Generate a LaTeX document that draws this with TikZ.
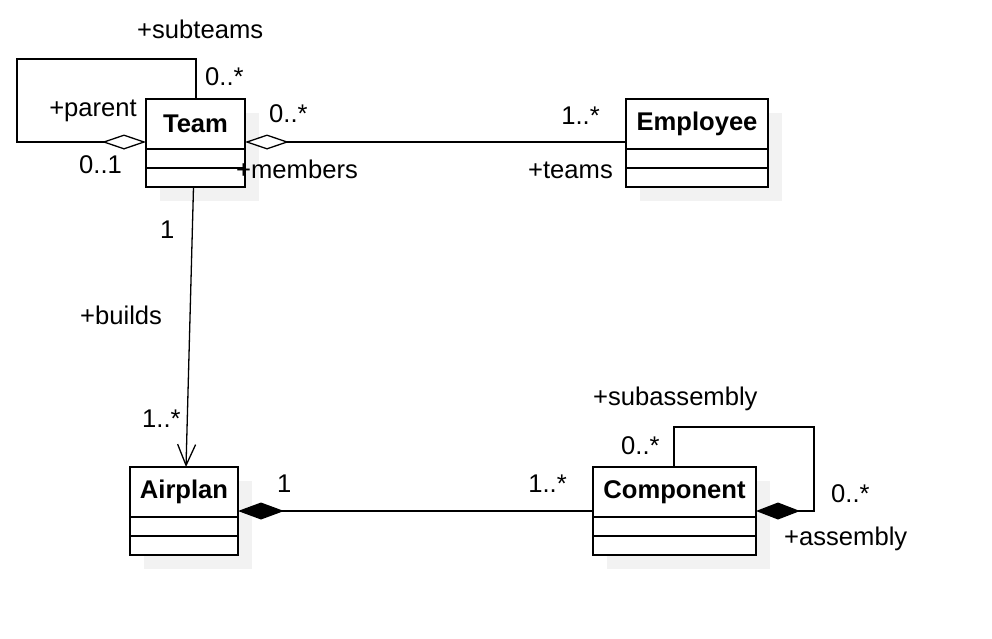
\documentclass[tikz,border=0pt]{standalone}
\usepackage{fontspec}
\setmainfont{Liberation Sans}
\usetikzlibrary{arrows.meta,positioning,shadows,calc}
\newcommand{\umlfont}{\fontsize{25.6}{30}\selectfont}
\tikzstyle{classhead} = [
    rectangle,
    draw=black,
    fill=white,
    line width=1.3pt,
    inner sep=0pt,
    outer sep=0pt,
    minimum height=50pt,
    anchor=north west,
    font=\umlfont\bfseries,
    drop shadow={shadow xshift=14pt, shadow yshift=-14pt, fill=black!5, opacity=1}
]
\tikzstyle{classpart} = [
    rectangle,
    draw=black,
    fill=white,
    line width=1.3pt,
    inner sep=0pt,
    outer sep=0pt,
    minimum height=19pt,
    drop shadow={shadow xshift=14pt, shadow yshift=-14pt, fill=black!5, opacity=1}
]
\tikzstyle{assoc} = [
    line width=1.3pt,
    draw=black
]
\tikzstyle{role} = [
    inner sep=0pt,
    font=\umlfont
]
\begin{document}
\begin{tikzpicture}[x=1pt, y=-1pt]
        \useasboundingbox (0,0) rectangle (992,638);

        % classes
        \node[classhead, minimum width=99pt] (tHead) at (146,99) {Team};
        \node[classpart, minimum width=99pt, below=0pt of tHead] (tAttr) {};
        \node[classpart, minimum width=99pt, below=0pt of tAttr] (tOps) {};

        \node[classhead, minimum width=142pt] (eHead) at (626,99) {Employee};
        \node[classpart, minimum width=142pt, below=0pt of eHead] (eAttr) {};
        \node[classpart, minimum width=142pt, below=0pt of eAttr] (eOps) {};

        \node[classhead, minimum width=108pt] (aHead) at (130,467) {Airplan};
        \node[classpart, minimum width=108pt, below=0pt of aHead] (aAttr) {};
        \node[classpart, minimum width=108pt, below=0pt of aAttr] (aOps) {};

        \node[classhead, minimum width=163pt] (cHead) at (593,467) {Component};
        \node[classpart, minimum width=163pt, below=0pt of cHead] (cAttr) {};
        \node[classpart, minimum width=163pt, below=0pt of cAttr] (cOps) {};

        % associations
        \coordinate (tL) at ($(tHead.south west)+(0,-7)$);
        \draw[assoc, {Diamond[open, fill=white, length=44pt, width=15pt]}-]
            (tL) -- ++(-129,0) |- ($(tHead.north west)+(50,-40)$) -- ($(tHead.north west)+(50,0)$);
        \draw[assoc, {Diamond[open, fill=white, length=44pt, width=15pt]}-]
            (tL -| tHead.east) -- (tL -| eHead.west);
        \draw[assoc, -{Straight Barb[length=21pt, width=18pt]}]
            ($(tOps.south)+(-2,0)$) -- ($(aHead.north)+(2,0)$);

        \coordinate (aR) at ($(aHead.south east)+(0,-6)$);
        \draw[assoc, {Diamond[length=46pt, width=17pt]}-] (aR) -- (aR -| cHead.west);
        \coordinate (cR) at ($(cHead.south east)+(0,-6)$);
        \draw[assoc, {Diamond[length=44pt, width=17pt]}-]
            (cR) -- ++(58,0) |- ($(cHead.north west)+(81,-40)$) -- ($(cHead.north west)+(81,0)$);

        % roles and multiplicities
        \node[role, anchor=base west] (lSubteams) at (137,38) {+subteams};
        \node[role, anchor=base west] (mSubteams) at (205,85) {0..*};
        \node[role, anchor=base east] (lParent) at (137,116) {+parent};
        \node[role, anchor=base west] (mParent) at (79,173) {0..1};
        \node[role, anchor=base west] (mMembers) at (269,122) {0..*};
        \node[role, anchor=base west] (lMembers) at (236,178) {+members};
        \node[role, anchor=base east] (mTeams) at (600,124) {1..*};
        \node[role, anchor=base east] (lTeams) at (613,178) {+teams};
        \node[role, anchor=base west] (mTeam) at (160,238) {1};
        \node[role, anchor=base west] (lBuilds) at (80,324) {+builds};
        \node[role, anchor=base west] (mBuilds) at (142,427) {1..*};
        \node[role, anchor=base west] (mAirplan) at (277,492) {1};
        \node[role, anchor=base east] (mParts) at (567,492) {1..*};
        \node[role, anchor=base west] (lSub) at (593,405) {+subassembly};
        \node[role, anchor=base west] (mSub) at (621,454) {0..*};
        \node[role, anchor=base west] (mAssembly) at (831,502) {0..*};
        \node[role, anchor=base west] (lAssembly) at (784,545) {+assembly};
    \end{tikzpicture}
\end{document}
